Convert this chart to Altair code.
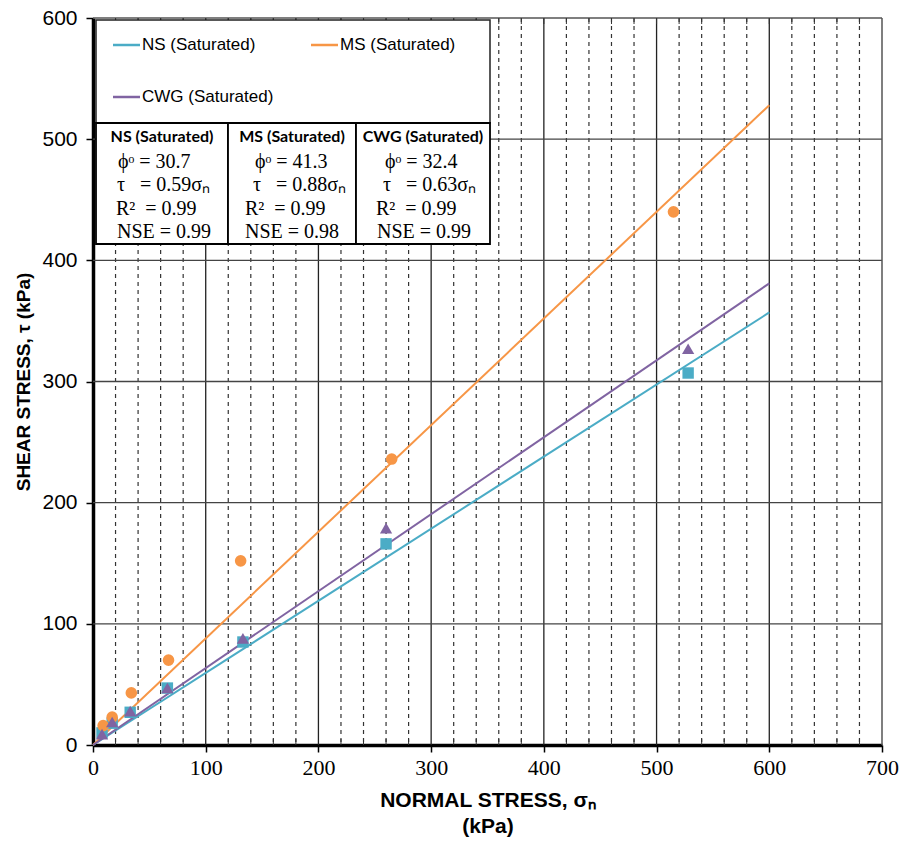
import altair as alt
import pandas as pd

# ---- data ----
ns_x = [8, 17, 33, 66, 133, 260, 528]
ns_y = [10, 18, 27, 47, 85, 166, 307]
ms_x = [9, 17, 34, 67, 131, 265, 515]
ms_y = [16, 23, 43, 70, 152, 236, 440]
cwg_x = [8, 17, 33, 66, 133, 260, 528]
cwg_y = [9, 19, 28, 47, 88, 179, 327]

fit_x = [0, 600]
ns_fit = [0, 357]
ms_fit = [0, 528]
cwg_fit = [0, 381]

x_major = [0, 100, 200, 300, 400, 500, 600, 700]
y_major = [0, 100, 200, 300, 400, 500, 600]
x_grid_solid = [100, 200, 300, 400, 500, 600]
x_grid_dashed = [20, 40, 60, 80, 120, 140, 160, 180, 220, 240, 260, 280, 320, 340,
                 360, 380, 420, 440, 460, 480, 520, 540, 560, 580, 620, 640, 660, 680]
y_grid_solid = [100, 200, 300, 400, 500]

series = ["NS (Saturated)", "MS (Saturated)", "CWG (Saturated)"]
colors = ["#4BACC6", "#F79646", "#8064A2"]
shapes = ["square", "circle", "triangle-up"]
stats_phi = ["30.7", "41.3", "32.4"]
stats_slope = ["0.59", "0.88", "0.63"]
stats_r2 = ["0.99", "0.99", "0.99"]
stats_nse = ["0.99", "0.98", "0.99"]

W, H = 789, 727
NB = "\u00a0"

xs = alt.Scale(domain=[0, 700], nice=False, zero=False)
ys = alt.Scale(domain=[0, 600], nice=False, zero=False)

xaxis = alt.Axis(values=x_major, title=["NORMAL STRESS, σₙ", "(kPa)"], grid=False,
                 tickSize=7, tickColor="black", tickWidth=1.5,
                 domainColor="black", domainWidth=3.5,
                 labelFont="Liberation Sans Narrow", labelFontSize=22, labelColor="black",
                 labelPadding=5, titleFont="Liberation Sans", titleFontSize=21,
                 titleFontWeight="bold", titleColor="black", titlePadding=11,
                 titleLineHeight=26, labelFlush=False)
yaxis = alt.Axis(values=y_major, title="SHEAR STRESS, τ (kPa)", grid=False,
                 tickSize=7, tickColor="black", tickWidth=1.5,
                 domainColor="black", domainWidth=3.5,
                 labelFont="Liberation Sans", labelFontSize=21, labelColor="black",
                 labelPadding=9, titleFont="Liberation Sans", titleFontSize=19,
                 titleFontWeight="bold", titleColor="black", titlePadding=8,
                 labelFlush=False)


def X(field):
    return alt.X(field, type="quantitative", scale=xs, axis=xaxis)


def Y(field):
    return alt.Y(field, type="quantitative", scale=ys, axis=yaxis)


layers = []

# grid lines
layers.append(alt.Chart(pd.DataFrame({"gx": x_grid_dashed})).mark_rule(
    color="#333333", strokeWidth=1.2, strokeDash=[4, 4]).encode(x=X("gx")))
layers.append(alt.Chart(pd.DataFrame({"gx": x_grid_solid})).mark_rule(
    color="#222222", strokeWidth=1.3).encode(x=X("gx")))
layers.append(alt.Chart(pd.DataFrame({"gy": y_grid_solid})).mark_rule(
    color="#444444", strokeWidth=1.3).encode(y=Y("gy")))
# frame top/right
one = pd.DataFrame({"a": [0]})
layers.append(alt.Chart(one).mark_rule(color="#555555", strokeWidth=1.5).encode(
    x=alt.value(0), x2=alt.value(W), y=alt.value(0)))
layers.append(alt.Chart(one).mark_rule(color="#555555", strokeWidth=1.5).encode(
    x=alt.value(W), y=alt.value(0), y2=alt.value(H)))
# minor ticks on top and bottom
layers.append(alt.Chart(pd.DataFrame({"gx": x_grid_dashed})).mark_rule(
    color="#333333", strokeWidth=1).encode(x=X("gx"), y=alt.value(H - 6), y2=alt.value(H)))
layers.append(alt.Chart(pd.DataFrame({"gx": x_grid_dashed + x_grid_solid})).mark_rule(
    color="#333333", strokeWidth=1).encode(x=X("gx"), y=alt.value(0), y2=alt.value(6)))

# fitted lines
for name, fy, c in zip(series, [ns_fit, ms_fit, cwg_fit], colors):
    d = pd.DataFrame({"lx": fit_x, "ly": fy})
    layers.append(alt.Chart(d).mark_line(color=c, strokeWidth=2).encode(
        x=X("lx"), y=Y("ly")))

# points
for px, py, c, s, sz in zip([ns_x, ms_x, cwg_x], [ns_y, ms_y, cwg_y], colors, shapes,
                            [130, 135, 150]):
    d = pd.DataFrame({"px": px, "py": py})
    layers.append(alt.Chart(d).mark_point(shape=s, filled=True, opacity=1, color=c,
                                          size=sz).encode(x=X("px"), y=Y("py")))

# legend box
layers.append(alt.Chart(one).mark_rect(fill="white", stroke="#222222", strokeWidth=1.5).encode(
    x=alt.value(3), x2=alt.value(397), y=alt.value(2), y2=alt.value(105)))
leg_pos = [(20, 27), (218, 27), (20, 79)]
for (lx, ly), name, c in zip(leg_pos, series, colors):
    layers.append(alt.Chart(one).mark_rule(color=c, strokeWidth=2.5).encode(
        x=alt.value(lx), x2=alt.value(lx + 27), y=alt.value(ly)))
    layers.append(alt.Chart(one).mark_text(
        text=name, align="left", baseline="middle", font="Liberation Sans",
        fontSize=17, color="black").encode(x=alt.value(lx + 29), y=alt.value(ly)))

# stats table
cells = [(3, 135), (135, 263), (263, 397)]
# offsets of the phi, tau, R2 and NSE lines from the cell's left edge
offs = [(22, 21, 20, 21), (27, 25, 17, 17), (29, 27, 20, 21)]
for (c0, c1), name, phi, sl, r2, nse, (o1, o2, o3, o4) in zip(
        cells, series, stats_phi, stats_slope, stats_r2, stats_nse, offs):
    layers.append(alt.Chart(one).mark_rect(fill="white", stroke="black", strokeWidth=1.8).encode(
        x=alt.value(c0), x2=alt.value(c1), y=alt.value(105), y2=alt.value(226)))
    layers.append(alt.Chart(one).mark_text(
        text=name, align="center", baseline="middle", font="Lato", fontWeight="bold",
        fontSize=16, color="black").encode(x=alt.value((c0 + c1) / 2), y=alt.value(119)))
    for txt, ty, ox in [("ϕᵒ = " + phi, 144, o1),
                        ("τ" + NB + NB + NB + "= " + sl + "σₙ", 167, o2),
                        ("R²" + NB + NB + "= " + r2, 191, o3),
                        ("NSE = " + nse, 214, o4)]:
        layers.append(alt.Chart(one).mark_text(
            text=txt, align="left", baseline="middle", font="Liberation Serif",
            fontSize=20, color="black").encode(x=alt.value(c0 + ox), y=alt.value(ty)))

chart = alt.layer(*layers).properties(
    width=W, height=H,
    autosize=alt.AutoSizeParams(type="none"),
    padding={"left": 93, "top": 18, "right": 22, "bottom": 97},
    background="white",
).configure_view(stroke=None)

chart.save("out.html", embed_options={"renderer": "svg", "actions": False})
